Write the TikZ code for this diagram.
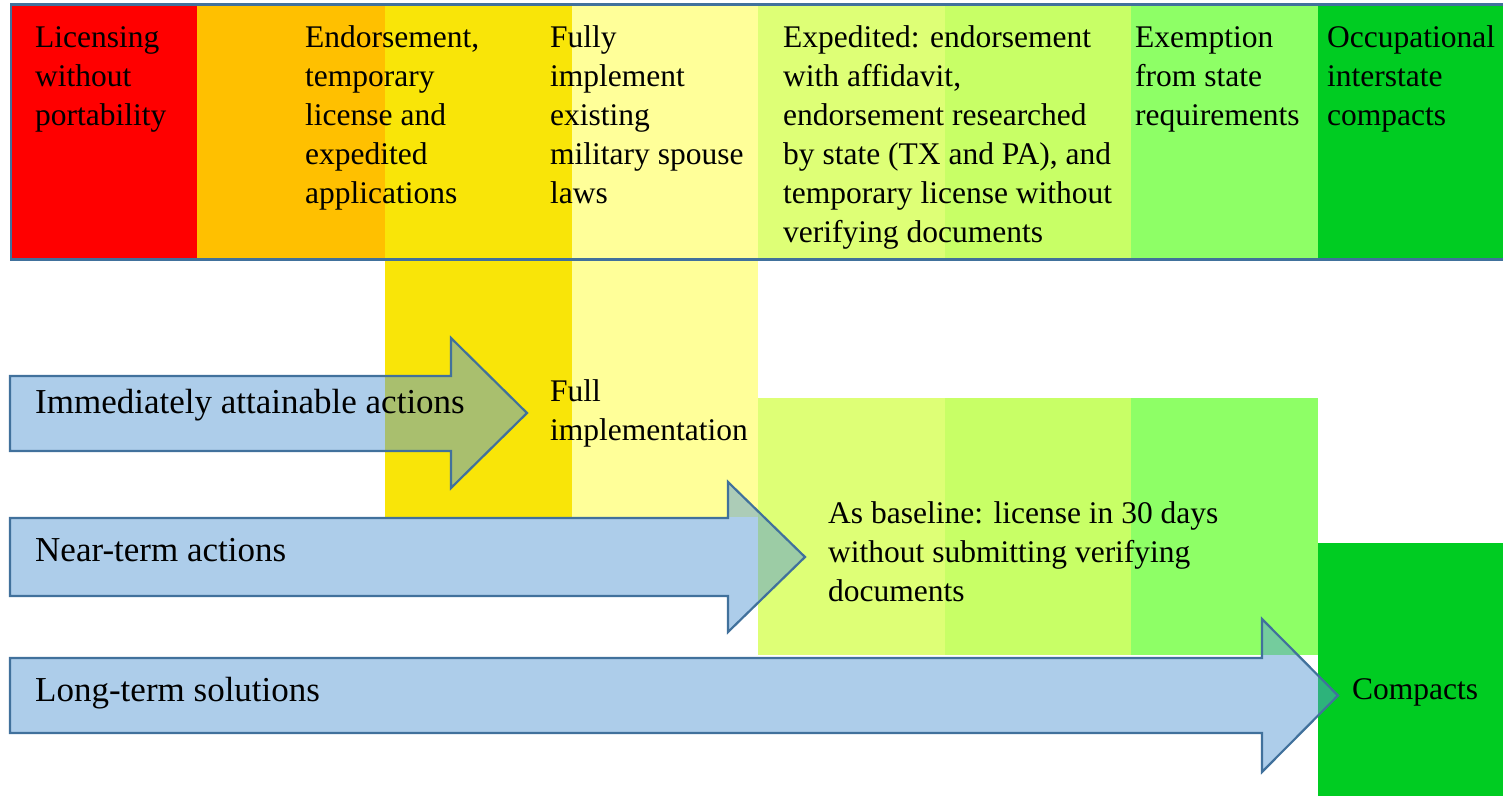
\documentclass[tikz,border=0pt]{standalone}
\usepackage{fontspec}
\setmainfont{Liberation Serif}
\definecolor{cRed}{HTML}{FF0000}
\definecolor{cOrange}{HTML}{FFC000}
\definecolor{cYellow}{HTML}{F9E508}
\definecolor{cLYellow}{HTML}{FFFF99}
\definecolor{cGY1}{HTML}{DEFF76}
\definecolor{cGY2}{HTML}{C8FF66}
\definecolor{cLGreen}{HTML}{8EFF66}
\definecolor{cGreen}{HTML}{00CC22}
\definecolor{arrowFill}{HTML}{5B9BD5}
\definecolor{edgeBlue}{HTML}{41719C}
\begin{document}
\begin{tikzpicture}[x=1pt,y=-1pt,
  lbl/.style={anchor=base west,inner sep=0pt,align=left,font=\fontsize{31.5}{39}\selectfont},
  arrlbl/.style={anchor=base west,inner sep=0pt,font=\fontsize{35}{42}\selectfont},
  bigarrow/.style={fill=arrowFill,fill opacity=0.5,draw=edgeBlue,line width=2.2pt,line join=miter}]
\useasboundingbox (0,0) rectangle (1503,795);
% top band columns
\fill[cRed] (10,4) rectangle (197,260);
\fill[cOrange] (197,4) rectangle (385,260);
\fill[cYellow] (385,4) rectangle (572,260);
\fill[cLYellow] (572,4) rectangle (758,260);
\fill[cGY1] (758,4) rectangle (945,260);
\fill[cGY2] (945,4) rectangle (1131,260);
\fill[cLGreen] (1131,4) rectangle (1318,260);
\fill[cGreen] (1318,4) rectangle (1505,260);
\draw[edgeBlue,line width=2.5pt] (11,4.5) rectangle (1510,259.5);
% lower columns
\fill[cYellow] (385,261) rectangle (572,517);
\fill[cLYellow] (572,261) rectangle (758,517);
\fill[cGY1] (758,398) rectangle (945,655);
\fill[cGY2] (945,398) rectangle (1131,655);
\fill[cLGreen] (1131,398) rectangle (1318,655);
\fill[cGreen] (1318,543) rectangle (1505,800);
% arrows
\draw[bigarrow] (10,376) -- (451,376) -- (451,338) -- (527,413) -- (451,488) -- (451,451) -- (10,451) -- cycle;
\draw[bigarrow] (10,518) -- (728,518) -- (728,482) -- (805,557) -- (728,632) -- (728,596) -- (10,596) -- cycle;
\draw[bigarrow] (10,658) -- (1262,658) -- (1262,619) -- (1338,695.5) -- (1262,772) -- (1262,733) -- (10,733) -- cycle;
% top labels (anchor at baseline of last line)
\node[lbl] (t1) at (35,125) {Licensing\\without\\portability};
\node[lbl] (t2) at (305,203) {Endorsement,\\temporary\\license and\\expedited\\applications};
\node[lbl] (t3) at (550,203) {Fully\\implement\\existing\\military spouse\\laws};
\node[lbl] (t4) at (783,242) {Expedited: endorsement\\with affidavit,\\endorsement researched\\by state (TX and PA), and\\temporary license without\\verifying documents};
\node[lbl] (t5) at (1135,125) {Exemption\\from state\\requirements};
\node[lbl] (t6) at (1327,125) {Occupational\\interstate\\compacts};
% lower labels
\node[lbl] (full) at (550,440) {Full\\implementation};
\node[lbl] (base) at (828,601) {As baseline: license in 30 days\\without submitting verifying\\documents};
\node[lbl] (comp) at (1352,699) {Compacts};
\node[arrlbl] (a1) at (35,413) {Immediately attainable actions};
\node[arrlbl] (a2) at (35,561) {Near-term actions};
\node[arrlbl] (a3) at (35,701) {Long-term solutions};
\end{tikzpicture}
\end{document}
